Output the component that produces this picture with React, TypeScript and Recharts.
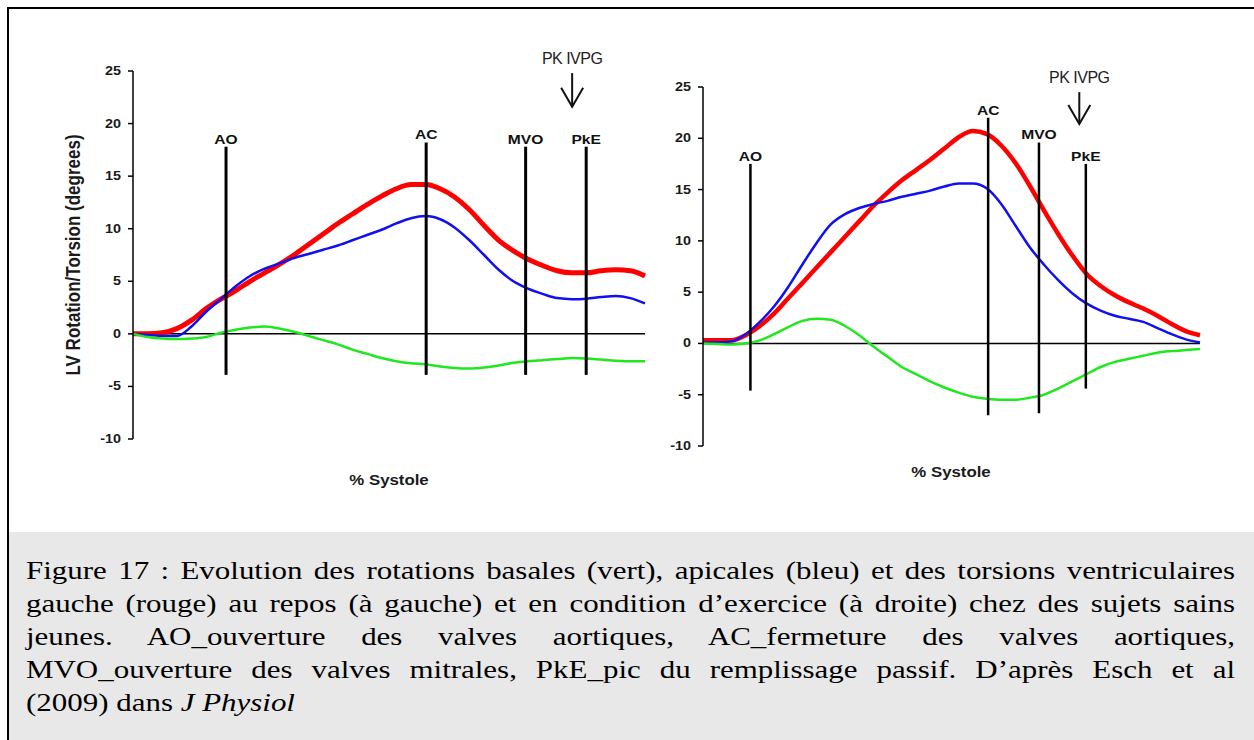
import { LineChart, Line, XAxis, YAxis, ReferenceLine } from 'recharts';

// % systole sample points (shared by both panels)
const systole = [0, 5, 10, 15, 20, 25, 30, 35, 40, 45, 50, 55, 60, 65, 70, 75, 80, 85, 90, 95, 100, 105, 110, 115, 120, 125, 130, 135, 140, 145, 150, 155, 160, 165, 170, 175];

// rest (left panel)
const restTorsion = [0, 0, 0.1, 0.5, 1.3, 2.4, 3.3, 4.1, 5.0, 5.8, 6.6, 7.5, 8.5, 9.5, 10.5, 11.4, 12.3, 13.1, 13.8, 14.2, 14.2, 13.8, 13.0, 11.8, 10.3, 8.9, 7.9, 7.1, 6.5, 6.0, 5.8, 5.8, 6.0, 6.1, 6.0, 5.5];
const restApical = [0, -0.1, -0.2, -0.2, 0.7, 2.1, 3.3, 4.5, 5.5, 6.2, 6.7, 7.2, 7.6, 8.0, 8.4, 8.9, 9.4, 9.9, 10.5, 11.0, 11.2, 10.9, 10.1, 8.9, 7.5, 6.1, 5.0, 4.3, 3.8, 3.4, 3.3, 3.35, 3.5, 3.6, 3.4, 2.9];
const restBasal = [0, -0.3, -0.45, -0.5, -0.45, -0.3, 0.1, 0.4, 0.6, 0.7, 0.5, 0.2, -0.2, -0.6, -1.0, -1.5, -1.9, -2.3, -2.6, -2.8, -2.9, -3.1, -3.25, -3.3, -3.2, -3.0, -2.75, -2.6, -2.5, -2.4, -2.3, -2.35, -2.45, -2.55, -2.6, -2.6];

// exercise (right panel)
const exTorsion = [0.3, 0.3, 0.3, 0.8, 1.7, 2.9, 4.4, 5.9, 7.4, 8.9, 10.4, 11.9, 13.4, 14.7, 15.9, 16.9, 17.9, 19.0, 20.1, 20.7, 20.4, 19.3, 17.6, 15.4, 13.0, 10.7, 8.6, 6.8, 5.6, 4.7, 4.0, 3.4, 2.7, 1.9, 1.2, 0.8];
const exApical = [0.1, 0.1, 0.2, 0.9, 2.1, 3.6, 5.5, 7.7, 9.8, 11.6, 12.6, 13.2, 13.6, 13.9, 14.3, 14.6, 14.9, 15.3, 15.6, 15.6, 15.1, 13.6, 11.5, 9.4, 7.7, 6.2, 4.9, 3.9, 3.2, 2.7, 2.4, 2.1, 1.5, 0.9, 0.4, 0.1];
const exBasal = [0, -0.05, -0.1, 0, 0.3, 0.9, 1.6, 2.2, 2.4, 2.3, 1.7, 0.8, -0.3, -1.3, -2.3, -3.0, -3.7, -4.3, -4.8, -5.2, -5.4, -5.5, -5.5, -5.3, -5.0, -4.4, -3.7, -3.0, -2.3, -1.8, -1.5, -1.2, -0.9, -0.75, -0.65, -0.55];

const xTicks = [0, 25, 50, 75, 100, 125, 150, 175];
const yTicks = [-10, -5, 0, 5, 10, 15, 20, 25];

// cardiac events: x position, top and bottom of the marker line
const restEvents = [
  { name: 'AO', x: 31.8, top: 17.8, bottom: -3.9 },
  { name: 'AC', x: 100.2, top: 18.2, bottom: -3.9 },
  { name: 'MVO', x: 134.2, top: 17.8, bottom: -3.9 },
  { name: 'PkE', x: 154.9, top: 17.8, bottom: -3.9 },
];
const exEvents = [
  { name: 'AO', x: 16.7, top: 17.5, bottom: -4.6 },
  { name: 'AC', x: 100.4, top: 22.0, bottom: -7.0 },
  { name: 'MVO', x: 118.3, top: 19.6, bottom: -6.8 },
  { name: 'PkE', x: 134.8, top: 17.5, bottom: -4.4 },
];
const restPeak = { name: 'PK IVPG', x: 150.1, top: 24.8, bottom: 21.6 };
const exPeak = { name: 'PK IVPG', x: 132.5, top: 24.5, bottom: 21.4 };

const captionLines = [
  'Figure 17 : Evolution des rotations basales (vert), apicales (bleu) et des torsions ventriculaires',
  'gauche (rouge) au repos (à gauche) et en condition d’exercice (à droite) chez des sujets sains',
  'jeunes. AO_ouverture des valves aortiques, AC_fermeture des valves aortiques,',
  'MVO_ouverture des valves mitrales, PkE_pic du remplissage passif. D’après Esch et al',
];

const FONT = 'Arial, "Liberation Sans", Helvetica, sans-serif';
// the source figure is a bit stretched sideways, so texts get widened
const STRETCH = 1.2;

const WideText = ({ x, y, anchor = 'middle', size = 12, bold = true, fill = '#1a1a1a', children }: any) => (
  <text
    transform={`translate(${x},${y}) scale(${STRETCH},1)`}
    textAnchor={anchor}
    fontFamily={FONT}
    fontSize={size}
    fontWeight={bold ? 'bold' : 'normal'}
    fill={fill}
  >
    {children}
  </text>
);

const XTick = ({ x, payload, zeroY }: any) => (
  <g>
    <line x1={x} x2={x} y1={zeroY} y2={zeroY - 4} stroke="#000" strokeWidth={1.5} />
    <WideText x={x} y={zeroY + 26}>{payload.value}</WideText>
  </g>
);

const YTick = ({ x, y, payload }: any) => (
  <WideText x={x} y={y + 4} anchor="end">{payload.value}</WideText>
);

const EventMark = (p: any) => {
  const x = p.x1;
  const top = Math.min(p.y1, p.y2);
  const bot = Math.max(p.y1, p.y2);
  return (
    <g>
      <line x1={x} y1={top} x2={x} y2={bot} stroke="#000" strokeWidth={p.lineWidth} />
      <WideText x={x} y={top - 3} size={13} fill="#111">{p.name}</WideText>
    </g>
  );
};

const ArrowMark = (p: any) => {
  const x = p.x1;
  const top = Math.min(p.y1, p.y2);
  const bot = Math.max(p.y1, p.y2);
  return (
    <g>
      <g stroke="#111" strokeWidth={2} fill="none">
        <line x1={x} y1={top} x2={x} y2={bot} />
        <polyline points={`${x - 11},${bot - 19} ${x},${bot} ${x + 11},${bot - 19}`} />
      </g>
      <text x={x} y={top - 9} textAnchor="middle" fontFamily={FONT} fontSize={16} letterSpacing={-0.5} fill="#222">
        {p.name}
      </text>
    </g>
  );
};

interface PanelProps {
  torsion: number[];
  apical: number[];
  basal: number[];
  events: { name: string; x: number; top: number; bottom: number }[];
  peak: { name: string; x: number; top: number; bottom: number };
  left: number;
  top: number;
  width: number;
  height: number;
  yAxisWidth: number;
  marginTop: number;
  markerWidth: number;
  redWidth: number;
}

const Panel = ({ torsion, apical, basal, events, peak, left, top, width, height, yAxisWidth, marginTop, markerWidth, redWidth }: PanelProps) => {
  const data = systole.map((s, i) => ({ x: s, torsion: torsion[i], apical: apical[i], basal: basal[i] }));
  const margin = { top: marginTop, right: 20, bottom: 40, left: 0 };
  const plotH = height - margin.top - margin.bottom;
  const zeroY = margin.top + (plotH * 25) / 35;
  return (
    <div style={{ position: 'absolute', left, top }}>
      <LineChart width={width} height={height} data={data} margin={margin}>
        <XAxis
          dataKey="x"
          type="number"
          domain={[0, 175]}
          ticks={xTicks}
          height={0}
          axisLine={false}
          tickLine={false}
          tick={(p: any) => <XTick {...p} zeroY={zeroY} />}
        />
        <YAxis
          type="number"
          domain={[-10, 25]}
          ticks={yTicks}
          width={yAxisWidth}
          axisLine={{ stroke: '#000', strokeWidth: 1.5 }}
          tickLine={{ stroke: '#000', strokeWidth: 1.5 }}
          tickSize={5}
          tickMargin={7}
          tick={(p: any) => <YTick {...p} />}
        />
        <ReferenceLine y={0} stroke="#000" strokeWidth={1.5} />
        <Line type="monotone" dataKey="torsion" stroke="#ff0000" strokeWidth={redWidth} dot={false} isAnimationActive={false} />
        <Line type="monotone" dataKey="apical" stroke="#1010f0" strokeWidth={2.5} dot={false} isAnimationActive={false} />
        <Line type="monotone" dataKey="basal" stroke="#1fe81f" strokeWidth={2.5} dot={false} isAnimationActive={false} />
        {events.map((e) => (
          <ReferenceLine
            key={e.name}
            segment={[{ x: e.x, y: e.top }, { x: e.x, y: e.bottom }]}
            shape={(p: any) => <EventMark {...p} name={e.name} lineWidth={markerWidth} />}
          />
        ))}
        <ReferenceLine
          segment={[{ x: peak.x, y: peak.top }, { x: peak.x, y: peak.bottom }]}
          shape={(p: any) => <ArrowMark {...p} name={peak.name} />}
        />
      </LineChart>
    </div>
  );
};

const axisTitle = {
  position: 'absolute' as const,
  whiteSpace: 'nowrap' as const,
  fontFamily: FONT,
  fontWeight: 'bold' as const,
  color: '#1a1a1a',
};

const App = () => {
  return (
    <div style={{ position: 'fixed', left: 0, top: 0, width: 1254, height: 740, overflow: 'hidden', background: '#fff' }}>
      <div style={{ position: 'absolute', left: 7, top: 7, width: 1300, height: 800, border: '2px solid #000' }} />
      <div style={{ position: 'absolute', left: 9, top: 532, width: 1250, height: 210, background: '#e8e8e8' }} />

      <Panel
        torsion={restTorsion}
        apical={restApical}
        basal={restBasal}
        events={restEvents}
        peak={restPeak}
        left={40}
        top={20}
        width={625}
        height={459}
        yAxisWidth={93}
        marginTop={51}
        markerWidth={3}
        redWidth={5}
      />
      <Panel
        torsion={exTorsion}
        apical={exApical}
        basal={exBasal}
        events={exEvents}
        peak={exPeak}
        left={660}
        top={20}
        width={560}
        height={466}
        yAxisWidth={43}
        marginTop={67}
        markerWidth={2.5}
        redWidth={4.5}
      />

      <div style={{ ...axisTitle, left: 74, top: 255, fontSize: 17, transform: `translate(-50%, -50%) rotate(-90deg) scale(1, ${STRETCH})` }}>
        LV Rotation/Torsion (degrees)
      </div>
      <div style={{ ...axisTitle, left: 389, top: 480, fontSize: 14, transform: `translate(-50%, -50%) scale(${STRETCH}, 1)` }}>
        % Systole
      </div>
      <div style={{ ...axisTitle, left: 951, top: 472, fontSize: 14, transform: `translate(-50%, -50%) scale(${STRETCH}, 1)` }}>
        % Systole
      </div>

      <div
        style={{
          position: 'absolute',
          left: 26,
          top: 554,
          width: Math.round(1209 / 1.19),
          transform: 'scale(1.19, 1)',
          transformOrigin: 'left top',
          fontFamily: '"Liberation Serif", "Times New Roman", serif',
          fontSize: 26,
          lineHeight: '33px',
          color: '#000',
        }}
      >
        {captionLines.map((l) => (
          <div key={l} style={{ textAlign: 'justify', textAlignLast: 'justify', whiteSpace: 'nowrap' }}>
            {l}
          </div>
        ))}
        <div style={{ whiteSpace: 'nowrap' }}>
          (2009) dans <i>J Physiol</i>
        </div>
      </div>
    </div>
  );
};

export default App;
